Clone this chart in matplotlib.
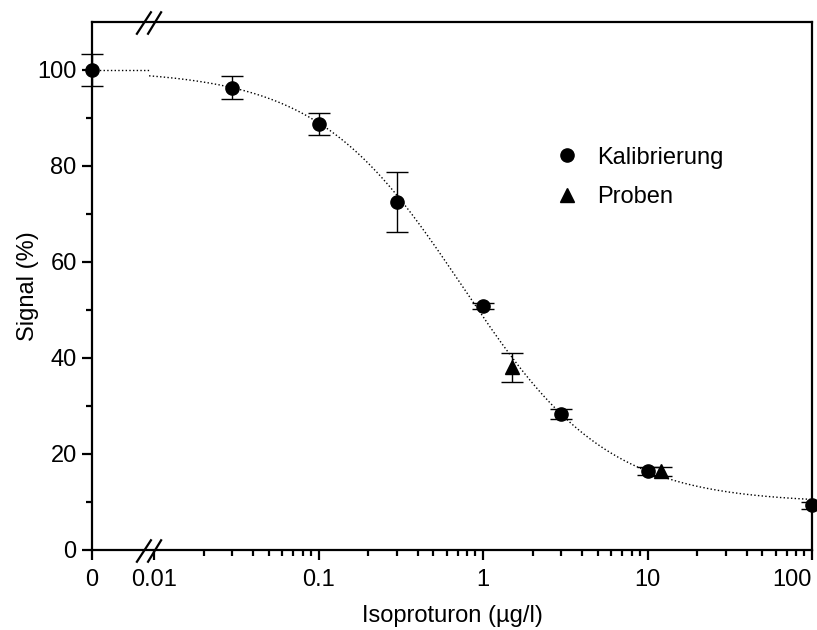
import numpy as np
import matplotlib
matplotlib.use("Agg")
import matplotlib.pyplot as plt
from matplotlib.lines import Line2D
from matplotlib.path import Path
from matplotlib.ticker import FixedLocator, FixedFormatter

plt.rcParams["font.family"] = ["Liberation Sans", "DejaVu Sans"]

# Calibration standards (concentration in µg/l, signal in %)
calib_conc = [0, 0.03, 0.1, 0.3, 1, 3, 10, 100]
calib_signal = [100.0, 96.3, 88.8, 72.5, 50.8, 28.3, 16.4, 9.3]
calib_err = [3.4, 2.4, 2.3, 6.3, 0.6, 1.1, 0.8, 0.8]

# Measured samples
sample_conc = [1.5, 12]
sample_signal = [38.1, 16.4]
sample_err = [3.0, 0.9]

# Four-parameter logistic fit of the calibration
fit_top = 100.0
fit_bottom = 9.8
fit_ic50 = 0.75
fit_slope = 0.98

# Position of the "0" concentration on the log axis and of the axis break
x_zero_pos = 10 ** -2.377
x_break_pos = 10 ** -2.03


def logistic(x):
    return fit_bottom + (fit_top - fit_bottom) / (1 + (x / fit_ic50) ** fit_slope)


def plot_pos(values):
    return [x_zero_pos if v == 0 else v for v in values]


fig = plt.figure(figsize=(8.17, 6.30), dpi=100)
ax = fig.add_axes([92 / 817, 1 - 550 / 630, 720 / 817, 528 / 630])
ax.set_xscale("log")
ax.set_xlim(x_zero_pos, 100)
ax.set_ylim(0, 110)

# Fitted curve: flat segment for the blank, then the logistic curve
xs = np.logspace(np.log10(x_break_pos), 2, 400)
ax.plot([x_zero_pos, x_break_pos], [fit_top, fit_top], color="black",
        linestyle=":", linewidth=1.0, zorder=2)
ax.plot(xs, logistic(xs), color="black", linestyle=":", linewidth=1.0, zorder=2)

err_kw = dict(color="black", ecolor="black", elinewidth=1.0, capsize=8,
              capthick=1.0, linestyle="none", zorder=3)
c1 = ax.errorbar(plot_pos(calib_conc), calib_signal, yerr=calib_err,
                 marker="o", markersize=9.5, **err_kw)
c2 = ax.errorbar(sample_conc, sample_signal, yerr=sample_err,
                 marker="^", markersize=9.5, **err_kw)
for cont in (c1, c2):
    for art in cont.get_children():
        art.set_clip_on(False)

# Axes styling
for side in ("left", "right", "top", "bottom"):
    ax.spines[side].set_linewidth(1.6)

major_x = [x_zero_pos, 0.01, 0.1, 1, 10, 100]
major_lbl = ["0", "0.01", "0.1", "1", "10", "100"]
minor_x = [m * 10.0 ** e for e in range(-2, 2) for m in range(2, 10)]
ax.xaxis.set_major_locator(FixedLocator(major_x))
ax.xaxis.set_major_formatter(FixedFormatter(major_lbl))
ax.xaxis.set_minor_locator(FixedLocator(minor_x))
ax.xaxis.set_minor_formatter(FixedFormatter([]))
ax.set_yticks([0, 20, 40, 60, 80, 100])
ax.set_yticks([10, 30, 50, 70, 90], minor=True)

ax.tick_params(which="major", direction="out", length=7, width=1.6,
               labelsize=17, top=False, right=False)
ax.tick_params(which="minor", direction="out", length=4, width=1.6,
               top=False, right=False)
ax.tick_params(axis="x", which="major", pad=7)
ax.tick_params(axis="y", which="major", pad=4)

# keep the last decade label inside the figure
ax.xaxis.get_major_ticks()[-1].label1.set_horizontalalignment("right")

ax.set_xlabel("Isoproturon (µg/l)", fontsize=17, labelpad=10)
ax.set_ylabel("Signal (%)", fontsize=17, labelpad=-1)

# Axis-break marks on the top and bottom spines
break_path = Path([(-13, -12), (2, 11), (-2, -12), (12, 11)],
                  [Path.MOVETO, Path.LINETO, Path.MOVETO, Path.LINETO])
for yb in (0, 1):
    ax.plot([x_break_pos], [yb], marker=break_path, markersize=19,
            markeredgewidth=1.6, color="black", linestyle="none",
            transform=ax.get_xaxis_transform(), clip_on=False, zorder=5)

handles = [
    Line2D([], [], marker="o", color="black", linestyle="none", markersize=9.5),
    Line2D([], [], marker="^", color="black", linestyle="none", markersize=9.5),
]
ax.legend(handles, ["Kalibrierung", "Proben"], loc="upper left",
          bbox_to_anchor=(0.63, 0.782), frameon=False, fontsize=17,
          handlelength=1.0, handletextpad=0.8, labelspacing=0.75,
          borderaxespad=0)

fig.savefig("out.png", dpi=100)
